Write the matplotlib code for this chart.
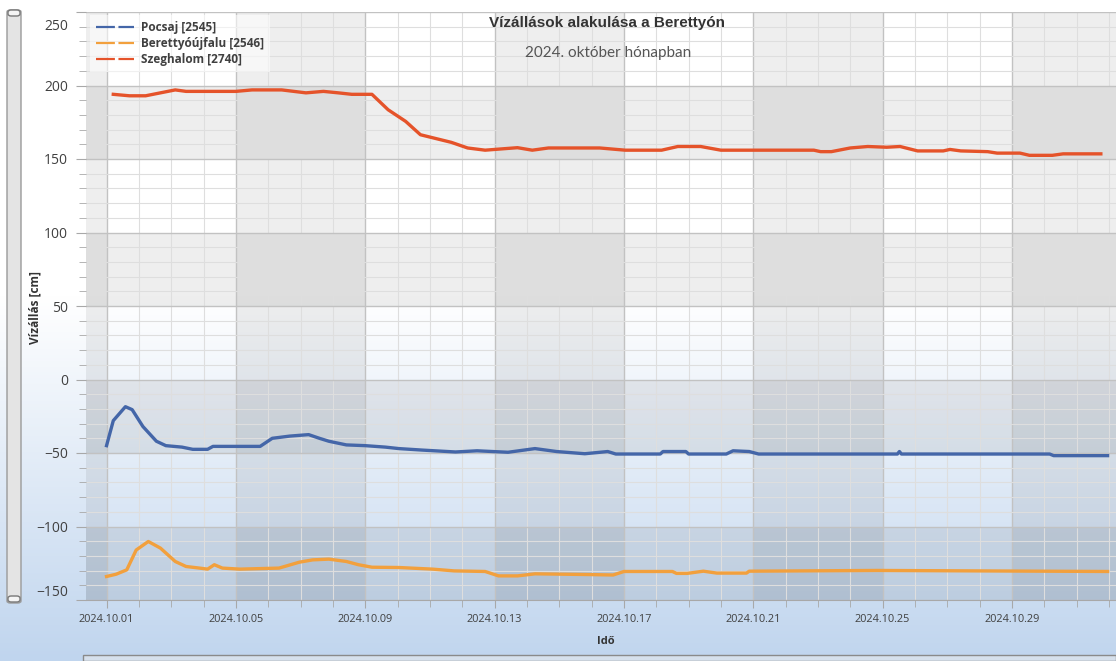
import numpy as np
import pandas as pd
import matplotlib
matplotlib.use('Agg')
import matplotlib.pyplot as plt
import matplotlib.dates as mdates
from matplotlib.colors import LinearSegmentedColormap
from matplotlib.lines import Line2D
from matplotlib.patches import FancyBboxPatch, Rectangle
from matplotlib.ticker import MultipleLocator
from matplotlib.transforms import ScaledTranslation

# --- adatok (leolvasva) ---
szeg_time = ['10-01 05:00', '10-01 17:00', '10-02 05:00', '10-03 03:00', '10-03 11:00',
             '10-05 00:00', '10-05 12:00', '10-06 10:00', '10-07 04:00', '10-07 17:00',
             '10-08 04:00', '10-08 14:00', '10-09 05:00', '10-09 17:00', '10-10 06:00',
             '10-10 17:00', '10-11 16:00', '10-12 04:00', '10-12 17:00', '10-13 17:00',
             '10-14 04:00', '10-14 16:00', '10-16 06:00', '10-17 01:00', '10-18 04:00',
             '10-18 16:00', '10-19 09:00', '10-20 00:00', '10-22 21:00', '10-23 02:00',
             '10-23 10:00', '10-24 00:00', '10-24 13:00', '10-25 03:00', '10-25 13:00',
             '10-26 02:00', '10-26 21:00', '10-27 02:00', '10-27 10:00', '10-28 06:00',
             '10-28 13:00', '10-29 06:00', '10-29 13:00', '10-30 06:00', '10-30 14:00',
             '10-31 18:00']
szeg_val = [194, 193, 193, 197, 196,
            196, 197, 197, 195, 196,
            195, 194, 194, 183.5, 175.6,
            166.5, 161.3, 157.5, 156, 157.7,
            156, 157.5, 157.5, 156, 156,
            158.5, 158.5, 156, 156, 155,
            155, 157.5, 158.5, 158, 158.5,
            155.5, 155.5, 156.5, 155.5, 155,
            154, 154, 152.5, 152.5, 153.5,
            153.5]

pocs_time = ['10-01 00:00', '10-01 05:00', '10-01 14:00', '10-01 19:00', '10-02 03:00',
             '10-02 13:00', '10-02 20:00', '10-03 08:00', '10-03 16:00', '10-04 03:00',
             '10-04 07:00', '10-05 18:00', '10-06 03:00', '10-06 16:00', '10-07 06:00',
             '10-07 14:00', '10-07 21:00', '10-08 10:00', '10-09 00:00', '10-09 15:00',
             '10-10 01:00', '10-10 18:00', '10-11 19:00', '10-12 11:00', '10-13 10:00',
             '10-14 06:00', '10-14 22:00', '10-15 19:00', '10-16 12:00', '10-16 18:00',
             '10-18 03:00', '10-18 05:00', '10-18 22:00', '10-19 00:00', '10-20 04:00',
             '10-20 09:00', '10-20 21:00', '10-21 04:00', '10-25 11:00', '10-25 12:30',
             '10-25 14:00', '10-30 04:00', '10-30 07:00', '10-31 23:00']
pocs_val = [-45, -28, -18.5, -20.5, -32,
            -42, -45, -46, -47.5, -47.5,
            -45.5, -45.5, -40, -38.5, -37.5,
            -40, -42, -44.5, -45, -46,
            -47, -48, -49.3, -48.5, -49.5,
            -47, -49, -50.5, -49, -50.7,
            -50.7, -49, -49, -50.7, -50.7,
            -48.5, -49, -50.7, -50.7, -49,
            -50.7, -50.7, -51.8, -51.8]

bere_time = ['10-01 00:00', '10-01 07:00', '10-01 15:00', '10-01 22:00', '10-02 07:00',
             '10-02 16:00', '10-03 03:00', '10-03 11:00', '10-03 21:00', '10-04 03:00',
             '10-04 08:00', '10-04 14:00', '10-05 03:00', '10-06 08:00', '10-06 23:00',
             '10-07 09:00', '10-07 21:00', '10-08 10:00', '10-08 19:00', '10-09 05:00',
             '10-10 01:00', '10-11 02:00', '10-11 18:00', '10-12 17:00', '10-13 03:00',
             '10-13 17:00', '10-14 06:00', '10-15 23:00', '10-16 16:00', '10-17 00:00',
             '10-18 12:00', '10-18 15:00', '10-18 23:00', '10-19 11:00', '10-19 21:00',
             '10-20 19:00', '10-20 21:00', '10-24 20:00', '10-31 23:00']
bere_val = [-134, -132.5, -129.5, -116, -110.2,
            -114.7, -123.8, -127.2, -128.3, -129,
            -126, -128.3, -129, -128.3, -124.3,
            -122.7, -122.2, -123.8, -126, -127.7,
            -127.9, -129, -130.2, -130.6, -133.6,
            -133.6, -132.2, -132.7, -133, -130.6,
            -130.6, -131.9, -131.9, -130.4, -131.7,
            -131.7, -130.4, -129.9, -130.6]

tick_days = ['2024-10-01', '2024-10-05', '2024-10-09', '2024-10-13',
             '2024-10-17', '2024-10-21', '2024-10-25', '2024-10-29']

series_names = ['Pocsaj [2545]', 'Berettyóújfalu [2546]', 'Szeghalom [2740]']
series_colors = ['#4466a8', '#f2a03d', '#e5532a']


def to_dt(times):
    return pd.to_datetime(['2024-' + t for t in times])


W, H = 1116, 661
fig = plt.figure(figsize=(W / 100, H / 100), dpi=100)

# háttér színátmenet
bg = fig.add_axes([0, 0, 1, 1], zorder=-10)
cmap = LinearSegmentedColormap.from_list('bg', [(0, 'white'), (0.45, 'white'), (1, '#c0d5ee')])
bg.imshow(np.linspace(0, 1, 256).reshape(-1, 1), aspect='auto', cmap=cmap,
          extent=[0, 1, 0, 1], origin='upper')
bg.axis('off')

ax = fig.add_axes([86 / W, 1 - 600 / H, 1 - 86 / W, 588 / H])
ax.set_facecolor('none')

x0 = pd.Timestamp('2024-09-30 08:45')
x1 = pd.Timestamp('2024-11-01 05:15')
ax.set_xlim(x0, x1)
ax.set_ylim(-150, 250)

# sávok
for lo in [150, 50, -50, -150]:
    ax.axhspan(lo, lo + 50, color='k', alpha=0.065, lw=0, zorder=0)
vbands = [(x0, '2024-10-01'), ('2024-10-05', '2024-10-09'), ('2024-10-13', '2024-10-17'),
          ('2024-10-21', '2024-10-25'), ('2024-10-29', x1)]
for a, b in vbands:
    ax.axvspan(pd.Timestamp(a), pd.Timestamp(b), color='k', alpha=0.065, lw=0, zorder=0)

ax.set_xticks(pd.to_datetime(tick_days))
ax.xaxis.set_minor_locator(mdates.DayLocator())
ax.xaxis.set_major_formatter(mdates.DateFormatter('%Y.%m.%d'))
ax.yaxis.set_major_locator(MultipleLocator(50))
ax.yaxis.set_minor_locator(MultipleLocator(10))

ax.grid(which='major', color='#c2c2c2', lw=1.0, zorder=1)
ax.grid(which='minor', color='#dedede', lw=0.8, zorder=1)
ax.set_axisbelow(True)

for s in ['top', 'right', 'left']:
    ax.spines[s].set_visible(False)
ax.spines['bottom'].set_color('#a8a8a8')

ax.tick_params(axis='both', which='both', colors='#a8a8a8', labelcolor='#404040')
ax.tick_params(axis='y', which='major', length=7, pad=6, labelsize=10, labelfontfamily='Open Sans')
ax.tick_params(axis='y', which='minor', length=5)
ax.tick_params(axis='x', which='major', length=6, pad=4, labelsize=7.8, labelfontfamily='Open Sans')
ax.tick_params(axis='x', which='minor', length=5)

# vonalak
for t, v, c in [(pocs_time, pocs_val, series_colors[0]),
                (bere_time, bere_val, series_colors[1]),
                (szeg_time, szeg_val, series_colors[2])]:
    ax.plot(to_dt(t), v, color=c, lw=2.4, solid_joinstyle='round', zorder=5)

handles = [Line2D([], [], color=c, lw=1.6, dashes=(8.5, 1.6)) for c in series_colors]
leg = ax.legend(handles, series_names, loc='upper left', bbox_to_anchor=(0.004, 0.995),
                prop={'family': 'Open Sans', 'weight': 'bold', 'size': 8.5},
                frameon=True, facecolor='white', framealpha=0.55, edgecolor='none',
                fancybox=False, handlelength=3.2, handletextpad=0.6, labelspacing=0.25,
                borderpad=0.5, borderaxespad=0.0)
for txt in leg.get_texts():
    txt.set_color('#404040')

# a szélső y feliratok befelé tolva
fig.canvas.draw()
for lbl, tk in zip(ax.get_yticklabels(), ax.get_yticks()):
    if tk == 250:
        lbl.set_transform(lbl.get_transform() + ScaledTranslation(0, -13 / 100, fig.dpi_scale_trans))
    elif tk == -150:
        lbl.set_transform(lbl.get_transform() + ScaledTranslation(0, 9 / 100, fig.dpi_scale_trans))

fig.text(607 / W, 1 - 23 / H, 'Vízállások alakulása a Berettyón', ha='center', va='center',
         fontsize=11, fontweight='bold', family='Liberation Sans', color='#333333')
fig.text(608 / W, 1 - 53 / H, '2024. október hónapban', ha='center', va='center',
         fontsize=11, family='Lato', color='#555555')
fig.text(35 / W, 1 - 307 / H, 'Vízállás [cm]', rotation=90, ha='center', va='center',
         fontsize=8.5, fontweight='bold', family='Open Sans', color='#333333')
fig.text(606 / W, 1 - 641 / H, 'Idő', ha='center', va='center',
         fontsize=8, fontweight='bold', family='Open Sans', color='#333333')

# görgetősávok
fig.patches.append(FancyBboxPatch((7 / W, 1 - 603 / H), 14 / W, 593 / H,
                                  boxstyle='round,pad=0,rounding_size=0.003',
                                  transform=fig.transFigure, fc='#e4e4e4', ec='#9a9a9a', lw=1))
for yy in [12, 598]:
    fig.patches.append(FancyBboxPatch((8 / W, 1 - (yy + 4) / H), 12 / W, 6 / H,
                                      boxstyle='round,pad=0,rounding_size=0.003',
                                      transform=fig.transFigure, fc='#f4f4f4', ec='#777777', lw=1))
fig.patches.append(Rectangle((83 / W, 0), 1 - 83 / W, 6 / H, transform=fig.transFigure,
                             fc='#d6e0ec', ec='#8a8a8a', lw=1))

fig.savefig('out.png', dpi=100)
